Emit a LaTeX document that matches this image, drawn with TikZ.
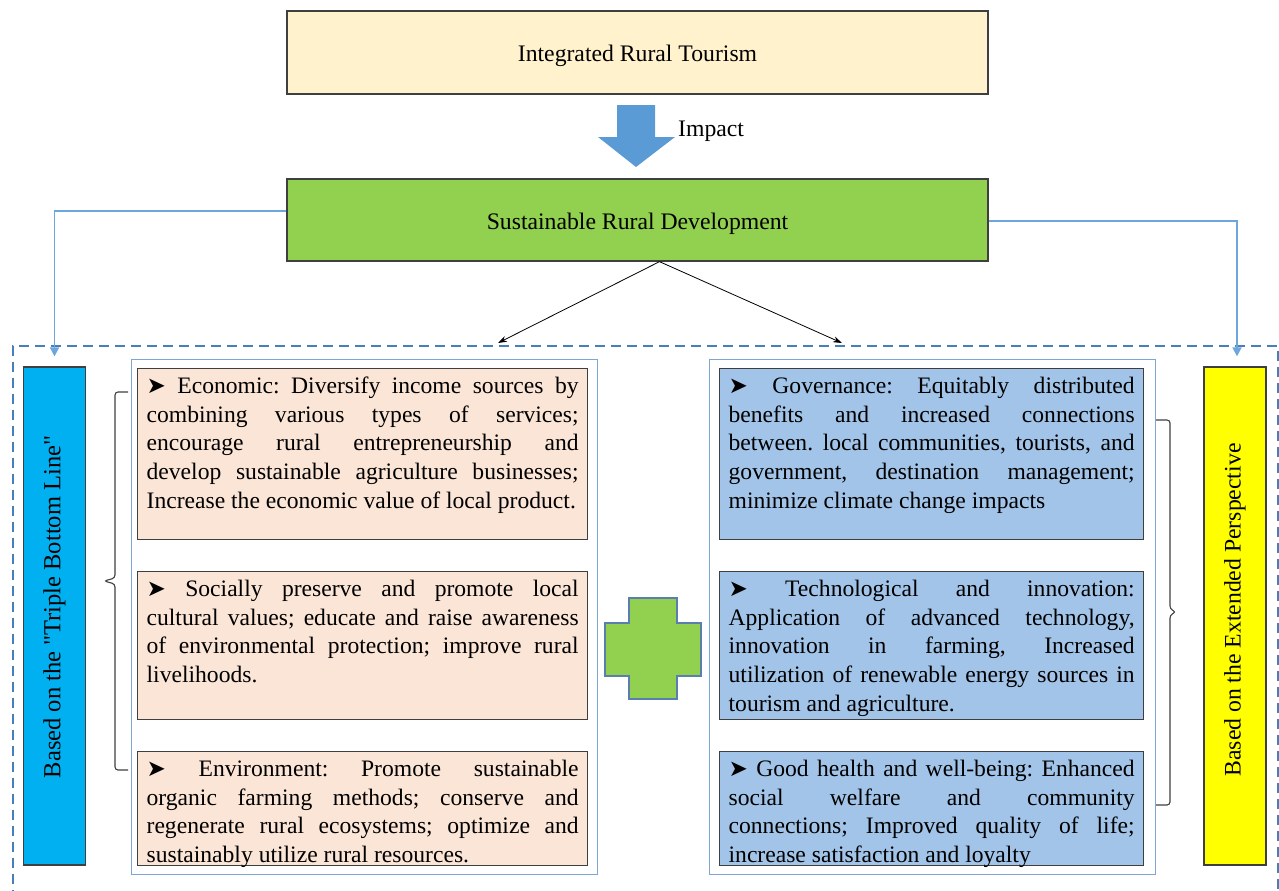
\documentclass[tikz,border=0pt]{standalone}
\usepackage{fontspec}
\setmainfont{Liberation Serif}[Ligatures=TeXOff]
\newfontfamily\symf{DejaVu Sans}
\usetikzlibrary{arrows.meta}
\definecolor{topfill}{HTML}{FFF2CC}
\definecolor{grfill}{HTML}{92D050}
\definecolor{arblue}{HTML}{5B9BD5}
\definecolor{connblue}{HTML}{6CA6DC}
\definecolor{dashblue}{HTML}{4A7EBB}
\definecolor{panelblue}{HTML}{7FA6D3}
\definecolor{peach}{HTML}{FBE5D6}
\definecolor{lblue}{HTML}{A2C4E8}
\definecolor{cyanfill}{HTML}{00B0F0}
\definecolor{yel}{HTML}{FFFF00}
\definecolor{edge}{HTML}{3F3F3F}
\definecolor{plusedge}{HTML}{5A7FAE}
\newcommand{\arr}{{\symf\fontsize{23}{23}\selectfont ➤}}
\newcommand{\tb}[2]{\parbox[t][#1][t]{\linewidth}{\fontsize{23.6}{28.6}\selectfont
  \frenchspacing\spaceskip=0pt\xspaceskip=0pt
  \leftskip=0pt\rightskip=0pt\parfillskip=0pt plus 1fil
  \hyphenpenalty=10000\exhyphenpenalty=10000\emergencystretch=3em
  \vspace*{5pt}\strut #2}}
\begin{document}
\begin{tikzpicture}[x=1pt,y=-1pt,
  font=\fontsize{23.7}{28.6}\selectfont,
  hbox/.style={draw=edge,line width=1.3pt,minimum width=701pt,inner sep=0pt,text height=20pt,text depth=2pt},
  tbox/.style={draw=edge,line width=1.3pt,anchor=north west,inner xsep=9pt,inner ysep=0pt},
  lbox/.style={tbox,fill=peach,text width=432pt},
  rbox/.style={tbox,fill=lblue,text width=406pt},
  side/.style={draw=edge,line width=1.3pt,minimum width=62pt,minimum height=498pt,inner sep=0pt},
  panel/.style={draw=panelblue,line width=1pt,anchor=north west,inner sep=0pt},
  conn/.style={draw=connblue,line width=1.8pt,-{Triangle[length=9pt,width=9pt]}},
  blk/.style={draw=black,line width=0.8pt,-{Stealth[length=9pt,width=6pt]}},
  brc/.style={draw=edge,line width=1.1pt,rounded corners=3pt}
]
\useasboundingbox (0,0) rectangle (1279,891);
\clip (0,0) rectangle (1279,891);

% top boxes
\node[hbox,fill=topfill,minimum height=83pt] (top) at (637.5,52.5) {Integrated Rural Tourism};
\node[hbox,fill=grfill,minimum height=82pt] (srd) at (637.5,220) {Sustainable Rural Development};

% big arrow
\fill[arblue] (617,105) -- (655,105) -- (655,137) -- (675,137) -- (636,167) -- (598,137) -- (617,137) -- cycle;
\node[anchor=west,inner sep=0pt] (imp) at (678,131) {Impact};

% dashed frame
\draw[dashblue,line width=2pt,dash pattern=on 10pt off 6pt] (13,900) -- (13,346) -- (1278,346) -- (1278,900);

% side boxes
\node[side,fill=cyanfill] (cy) at (54.5,616) {};
\node[rotate=90,inner sep=0pt,font=\fontsize{24.5}{28}\selectfont] (cyt) at (54.5,607) {Based on the "Triple Bottom Line"};
\node[side,fill=yel] (ye) at (1235,616) {};
\node[rotate=90,inner sep=0pt] (yet) at (1235,610) {Based on the Extended Perspective};

% panels
\node[panel,minimum width=466pt,minimum height=515pt] (lp) at (131,359) {};
\node[panel,minimum width=446pt,minimum height=515pt] (rp) at (709,359) {};

% left boxes
\node[lbox,minimum height=171pt] (l1) at (137,368) {\tb{171pt}{\arr{} Economic: Diversify income sources by\linebreak combining various types of services;\linebreak encourage rural entrepreneurship and\linebreak develop sustainable agriculture businesses;\linebreak Increase the economic value of local product.}};
\node[lbox,minimum height=148pt] (l2) at (137,571) {\tb{148pt}{\arr{} Socially preserve and promote local\linebreak cultural values; educate and raise awareness\linebreak of environmental protection; improve rural\linebreak livelihoods.}};
\node[lbox,minimum height=114pt] (l3) at (137,751) {\tb{114pt}{\arr{} Environment: Promote sustainable\linebreak organic farming methods; conserve and\linebreak regenerate rural ecosystems; optimize and\linebreak sustainably utilize rural resources.}};

% right boxes
\node[rbox,minimum height=171pt] (r1) at (719,368) {\tb{171pt}{\arr{} Governance: Equitably distributed\linebreak benefits and increased connections\linebreak between. local communities, tourists, and\linebreak government, destination management;\linebreak minimize climate change impacts}};
\node[rbox,minimum height=148pt] (r2) at (719,571) {\tb{148pt}{\arr{} Technological and innovation:\linebreak Application of advanced technology,\linebreak innovation in farming, Increased\linebreak utilization of renewable energy sources in\linebreak tourism and agriculture.}};
\node[rbox,minimum height=114pt] (r3) at (719,751) {\tb{114pt}{\arr{} Good health and well-being: Enhanced\linebreak social welfare and community\linebreak connections; Improved quality of life;\linebreak increase satisfaction and loyalty}};

% plus sign
\draw[fill=grfill,draw=plusedge,line width=1.2pt] (629,598) -- (677,598) -- (677,623) -- (701,623) -- (701,676) -- (677,676) -- (677,699) -- (629,699) -- (629,676) -- (605,676) -- (605,623) -- (629,623) -- cycle;

% braces
\draw[brc] (128,392) -- (115,392) -- (115,578) -- (104,581) -- (115,584) -- (115,770) -- (128,770);
\draw[brc] (1156,420) -- (1170,420) -- (1170,609) -- (1176,612) -- (1170,615) -- (1170,805) -- (1156,805);

% connectors
\draw[conn] ([yshift=9pt]srd.west) -| ([yshift=10pt]cy.north);
\draw[conn] ([yshift=-1pt]srd.east) -| ([xshift=2pt,yshift=10pt]ye.north);
\coordinate (src) at ([xshift=22pt]srd.south);
\coordinate (la) at (498,343);
\coordinate (ra) at (842,343);
\draw[blk] (src) -- (la);
\draw[blk] (src) -- (ra);
\end{tikzpicture}
\end{document}
